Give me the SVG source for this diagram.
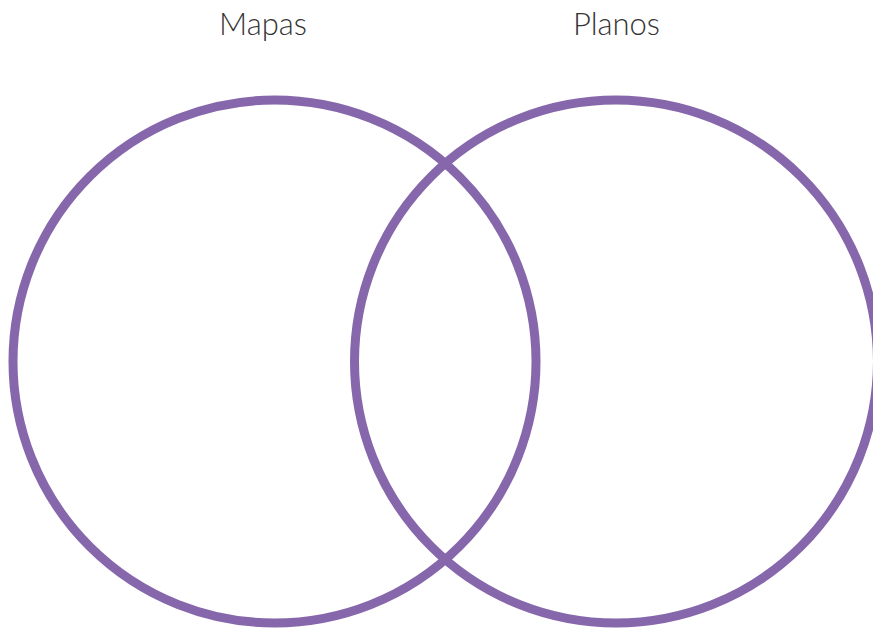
<svg xmlns="http://www.w3.org/2000/svg" width="873" height="629" viewBox="0 0 873 629">
<style>
.ring{fill:none;stroke:#8767ab;stroke-width:9}
.lbl{font-family:Lato,"Open Sans","Liberation Sans",sans-serif;font-weight:300;font-size:31px;fill:#333;text-anchor:middle}
</style>
<rect width="873" height="629" fill="#fff"/>
<g id="mapas">
<circle class="ring" cx="274.5" cy="361.5" r="261.5"/>
<text class="lbl" x="263" y="35">Mapas</text>
</g>
<g id="planos">
<circle class="ring" cx="616" cy="361.5" r="261.5"/>
<text class="lbl" x="616.5" y="35">Planos</text>
</g>
<g id="connectors"></g>
</svg>
